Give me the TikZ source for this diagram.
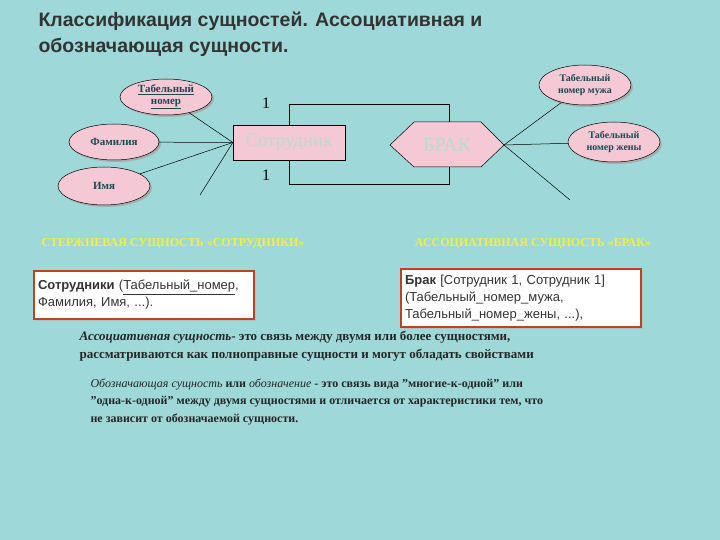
\documentclass[tikz,border=0pt]{standalone}
\usepackage{fontspec}
\setmainfont{Liberation Serif}
\setsansfont{Liberation Sans}
\usetikzlibrary{shapes.geometric,shadows}
\definecolor{bg}{HTML}{9ED8D8}
\definecolor{pinkf}{HTML}{F4C8D4}
\definecolor{dtext}{HTML}{1A4A50}
\definecolor{pale}{HTML}{B8DCD0}
\definecolor{yel}{HTML}{F0F040}
\definecolor{bord}{HTML}{C04020}
\tikzset{
 attr/.style={ellipse,draw=black,fill=pinkf,line width=0.5pt,text=dtext,font=\fontsize{11}{12}\selectfont\bfseries,align=center,inner sep=0pt,drop shadow={shadow xshift=2pt,shadow yshift=-2pt,fill=gray!70,opacity=0.8}},
 ln/.style={draw=black,line width=0.5pt},
 head/.style={text=yel,font=\fontsize{12}{14}\selectfont\bfseries},
 rbox/.style={draw=bord,line width=2pt,fill=white,align=left,font=\sffamily\fontsize{13}{17}\selectfont,text=black!80,anchor=north west,inner sep=4pt,drop shadow={shadow xshift=2pt,shadow yshift=-2pt,fill=gray!60}},
 para/.style={anchor=north west,align=left,text=black!85,font=\fontsize{13}{18}\selectfont}
}
\begin{document}
\begin{tikzpicture}[x=1pt,y=-1pt]
\fill[bg] (0,0) rectangle (720,540);
\useasboundingbox (0,0) rectangle (720,540);
\node[anchor=north west,align=left,font=\sffamily\bfseries\fontsize{19.5}{26}\selectfont,text=black!80] (title) at (35,8) {Классификация сущностей. Ассоциативная и\\обозначающая сущности.};
\node[attr,minimum width=92pt,minimum height=36pt] (tab) at (166,97) {\underline{Табельный}\\\underline{номер}};
\node[attr,minimum width=90pt,minimum height=36pt] (fam) at (114,142) {Фамилия};
\node[attr,minimum width=92pt,minimum height=38pt] (imya) at (104,186) {Имя};
\node[draw=black,fill=pinkf,minimum width=112pt,minimum height=35pt,text=pale,font=\fontsize{19}{20}\selectfont] (sot) at (289,142.5) {Сотрудник};
\coordinate (hl) at (390,145);
\coordinate (hr) at (504,145);
\filldraw[fill=pinkf,draw=black,line width=0.5pt] (hl) -- (414,122) -- (481,122) -- (hr) -- (481,167) -- (414,167) -- cycle;
\node[text=pale,font=\fontsize{20}{20}\selectfont] (brak) at (447,145) {БРАК};
\node[attr,minimum width=92pt,minimum height=40pt,font=\fontsize{10}{12}\selectfont\bfseries] (muzh) at (585,85) {Табельный\\номер мужа};
\node[attr,minimum width=92pt,minimum height=40pt,font=\fontsize{10}{12}\selectfont\bfseries] (zhen) at (614,142) {Табельный\\номер жены};
\coordinate (sl) at (sot.west);
\coordinate (lfree) at (200,195);
\coordinate (rfree) at (570,200);
\draw[ln] (tab) -- (sl);
\draw[ln] (fam) -- (sl);
\draw[ln] (imya) -- (sl);
\draw[ln] (lfree) -- (sl);
\draw[ln] (hr) -- (muzh);
\draw[ln] (hr) -- (zhen);
\draw[ln] (hr) -- (rfree);
\coordinate (b1) at (289,125);
\coordinate (b2) at (449,122);
\coordinate (b3) at (289,160);
\coordinate (b4) at (449,167);
\draw[ln] (b1) -- (289,104) -- (449,104) -- (b2);
\draw[ln] (b3) -- (289,184) -- (449,184) -- (b4);
\node[font=\fontsize{16}{16}\selectfont] (one1) at (266,103) {1};
\node[font=\fontsize{16}{16}\selectfont] (one2) at (266,175) {1};
\node[head] (h1) at (173,244) {СТЕРЖНЕВАЯ СУЩНОСТЬ «СОТРУДНИКИ»};
\node[head] (h2) at (533,244) {АССОЦИАТИВНАЯ СУЩНОСТЬ «БРАК»};
\node[rbox,text width=212pt,minimum height=48pt] (box1) at (33,270) {{\bfseries Сотрудники} (\underline{Табельный\_номер},\\Фамилия, Имя, ...).};
\node[rbox,text width=232pt,minimum height=58pt] (box2) at (400,268) {{\bfseries Брак} [Сотрудник 1, Сотрудник 1]\\(Табельный\_номер\_мужа,\\Табельный\_номер\_жены, ...),};
\node[para] (p1) at (76,328) {\textbf{\textit{Ассоциативная сущность}}\textbf{- это связь между двумя или более сущностями,}\\\textbf{рассматриваются как полноправные сущности и могут обладать свойствами}};
\node[para,font=\fontsize{12}{17.5}\selectfont] (p2) at (87,375) {\textit{Обозначающая сущность} \textbf{или} \textit{обозначение} \textbf{- это связь вида "многие-к-одной" или}\\\textbf{"одна-к-одной" между двумя сущностями и отличается от характеристики тем, что}\\\textbf{не зависит от обозначаемой сущности.}};
\end{tikzpicture}
\end{document}
